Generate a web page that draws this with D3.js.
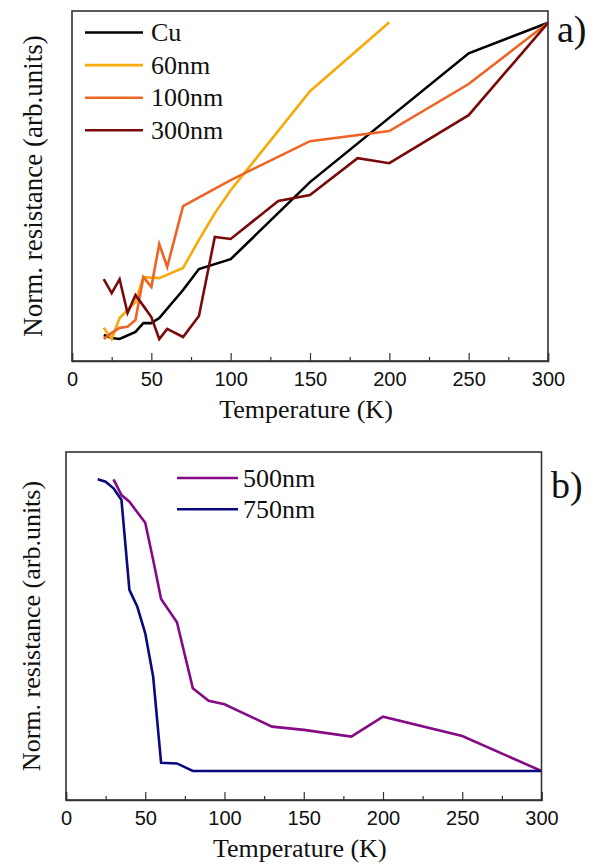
<!DOCTYPE html>
<html><head><meta charset="utf-8">
<script src="https://cdn.jsdelivr.net/npm/d3@7"></script>
<style>body{margin:0;background:#fff}svg{display:block}
.serif{font-family:"Liberation Serif","Times New Roman",Times,serif}
.sans{font-family:"Liberation Sans",Arial,Helvetica,sans-serif}
</style>
</head><body>
<svg id="c" width="595" height="867"></svg>
<script>
// ---- Panel a data (normalized resistance, arb. units) ----
const cuT   = [20,25,30,40,45,50,55,70,80,100,150,250,300];
const cuR   = [0.077,0.068,0.065,0.086,0.112,0.112,0.127,0.210,0.272,0.301,0.529,0.910,1.0];
const n60T  = [20,25,30,35,40,45,55,70,80,90,100,150,200];
const n60R  = [0.098,0.065,0.127,0.151,0.174,0.248,0.245,0.275,0.358,0.437,0.505,0.798,1.002];
const n100T = [20,25,30,35,40,45,50,55,60,70,100,150,200,250,300];
const n100R = [0.065,0.083,0.098,0.101,0.121,0.248,0.219,0.346,0.278,0.458,0.535,0.650,0.680,0.819,1.0];
const n300T = [20,25,30,35,40,45,50,55,60,70,80,90,100,130,150,180,200,250,300];
const n300R = [0.242,0.201,0.242,0.142,0.195,0.163,0.130,0.065,0.095,0.071,0.133,0.367,0.361,0.473,0.491,0.600,0.585,0.727,1.0];
// ---- Panel b data ----
const n500T = [30,35,40,50,55,60,70,80,90,100,130,150,180,200,250,300];
const n500R = [1.0,0.946,0.923,0.851,0.723,0.590,0.510,0.284,0.241,0.229,0.152,0.141,0.118,0.186,0.120,0.0];
const n750T = [20,25,30,35,40,45,50,55,60,70,80,100,150,200,250,300];
const n750R = [1.0,0.992,0.969,0.929,0.621,0.563,0.472,0.323,0.028,0.026,0.0,0.0,0.0,0.0,0.0,0.0];
const xTicks = [0,50,100,150,200,250,300];
const xMinor = [25,75,125,175,225,275];

const seriesA = [
  {name:"Cu",    T:cuT,   R:cuR,   color:"#000000"},
  {name:"60nm",  T:n60T,  R:n60R,  color:"#F7AA0A"},
  {name:"100nm", T:n100T, R:n100R, color:"#EE6425"},
  {name:"300nm", T:n300T, R:n300R, color:"#7A0A0A"}
];
const seriesB = [
  {name:"500nm", T:n500T, R:n500R, color:"#850A85"},
  {name:"750nm", T:n750T, R:n750R, color:"#0A0A80"}
];

const svg = d3.select("#c");

function panel(opt){
  const {x0,x1,yTop,yBot,yDom,series,legend,label,labelPos,tickBase,titleBase,ylabX,ylabFont} = opt;
  const x = d3.scaleLinear().domain([0,300]).range([x0,x1]);
  const y = d3.scaleLinear().domain(yDom).range([yBot,yTop]);
  const g = svg.append("g");
  const line = d3.line().x(d=>x(d[0])).y(d=>y(d[1]));
  series.forEach(s=>{
    g.append("path").datum(s.T.map((t,i)=>[t,s.R[i]]))
      .attr("d",line).attr("fill","none").attr("stroke",s.color)
      .attr("stroke-width",2.6).attr("stroke-linejoin","miter");
  });
  g.append("rect").attr("x",x0).attr("y",yTop).attr("width",x1-x0).attr("height",yBot-yTop)
    .attr("fill","none").attr("stroke","#333").attr("stroke-width",1.6);
  const ax = d3.axisBottom(x).tickValues(xTicks).tickSize(-8).tickPadding(0).tickFormat(d3.format("d"));
  const axg = g.append("g").attr("transform",`translate(0,${yBot})`).call(ax);
  axg.attr("font-family",null).attr("font-size",null);
  axg.select(".domain").attr("stroke","#333").attr("stroke-width",1.6);
  axg.selectAll(".tick line").attr("stroke","#333").attr("stroke-width",1.2);
  axg.selectAll(".tick text").attr("class","sans").style("font-size","20px").attr("fill","#111")
    .attr("y",tickBase-yBot).attr("dy",0);
  const axm = d3.axisBottom(x).tickValues(xMinor).tickSize(-4).tickFormat("");
  const amg = g.append("g").attr("transform",`translate(0,${yBot})`).call(axm);
  amg.select(".domain").remove();
  amg.selectAll(".tick line").attr("stroke","#333").attr("stroke-width",1.2);
  g.append("text").attr("class","serif").attr("x",(x0+x1)/2-4).attr("y",titleBase).attr("text-anchor","middle")
    .style("font-size","26px").attr("fill","#111").text("Temperature (K)");
  g.append("text").attr("class","serif").attr("transform",`translate(${ylabX},${(yTop+yBot)/2}) rotate(-90)`)
    .attr("text-anchor","middle").style("font-size",ylabFont+"px").attr("fill","#111")
    .text("Norm. resistance (arb.units)");
  series.forEach((s,i)=>{
    const ly = legend.y + i*legend.dy;
    g.append("line").attr("x1",legend.x).attr("x2",legend.x+legend.len).attr("y1",ly).attr("y2",ly)
      .attr("stroke",s.color).attr("stroke-width",2.6);
    g.append("text").attr("class","serif").attr("x",legend.x+legend.len+legend.gap).attr("y",ly).attr("dy","0.33em")
      .style("font-size","26px").attr("fill","#111").text(s.name);
  });
  g.append("text").attr("class","serif").attr("x",labelPos[0]).attr("y",labelPos[1])
    .style("font-size","38px").attr("fill","#111").text(label);
}

panel({x0:72,x1:548,yTop:11,yBot:361,yDom:[0,1.035],series:seriesA,
  legend:{x:85,y:32.5,dy:32.6,len:58,gap:8},label:"a)",labelPos:[557,42],
  tickBase:386,titleBase:418,ylabX:42,ylabFont:27});
panel({x0:66,x1:541.5,yTop:452,yBot:800,yDom:[-0.0994,1.0936],series:seriesB,
  legend:{x:177,y:478,dy:31.3,len:61,gap:5},label:"b)",labelPos:[551,498],
  tickBase:825,titleBase:857,ylabX:40,ylabFont:26});
</script>
</body></html>
